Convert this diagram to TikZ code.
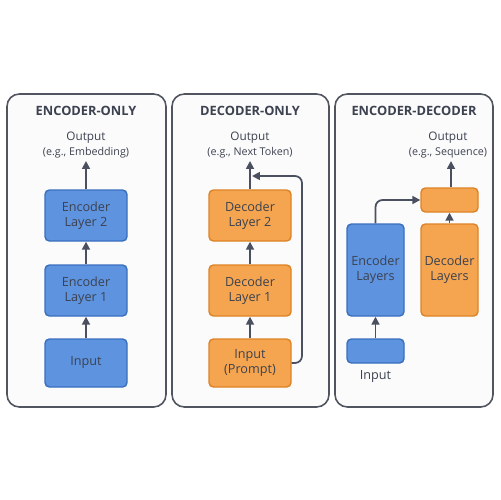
\documentclass[tikz,border=0pt]{standalone}
\usepackage{fontspec}
\setmainfont{Open Sans}
\usetikzlibrary{arrows.meta}
\definecolor{txt}{HTML}{3C4250}
\definecolor{arr}{HTML}{4A5060}
\definecolor{bluef}{HTML}{5E93DF}
\definecolor{blued}{HTML}{3A6FC0}
\definecolor{orf}{HTML}{F5A54F}
\definecolor{ord}{HTML}{DD8326}
\definecolor{panelf}{HTML}{FBFBFB}
\definecolor{paneld}{HTML}{505560}
\newcommand\subtxt{\fontsize{6.1}{7}\selectfont}
\begin{document}
\begin{tikzpicture}[x=0.02cm,y=-0.02cm,
  panel/.style={draw=paneld,fill=panelf,line width=0.9pt,rounded corners=7pt},
  bluebox/.style={draw=blued,fill=bluef,line width=0.8pt,rounded corners=2.5pt,text=txt,align=center,inner sep=0pt,font=\fontsize{7.2}{8.7}\selectfont},
  orbox/.style={draw=ord,fill=orf,line width=0.8pt,rounded corners=2.5pt,text=txt,align=center,inner sep=0pt,font=\fontsize{7.2}{8.7}\selectfont},
  ttl/.style={text=txt,font=\fontsize{7.3}{8.5}\selectfont\bfseries},
  outl/.style={text=txt,align=center,font=\fontsize{6.7}{8}\selectfont},
  conn/.style={draw=arr,line width=1pt,-{Triangle[length=4.5pt,width=4.5pt]}}
]
\useasboundingbox (0,0) rectangle (500,500);
\fill[white] (0,0) rectangle (500,500);
% panels
\draw[panel] (7,94) rectangle (166,407);
\draw[panel] (172,94) rectangle (329,407);
\draw[panel] (335,94) rectangle (493,407);
% titles
\node[ttl] (t1) at (86,111) {ENCODER-ONLY};
\node[ttl] (t2) at (250,111) {DECODER-ONLY};
\node[ttl] (t3) at (414,111) {ENCODER-DECODER};
% panel 1
\node[outl] (o1) at (86,145) {Output\\{\subtxt(e.g., Embedding)}};
\node[bluebox,minimum width=82*0.02cm,minimum height=51*0.02cm] (e2) at (86,215.5) {Encoder\\Layer 2};
\node[bluebox,minimum width=82*0.02cm,minimum height=51*0.02cm] (e1) at (86,290.5) {Encoder\\Layer 1};
\node[bluebox,minimum width=82*0.02cm,minimum height=48*0.02cm] (i1) at (86,363) {Input};
\coordinate (o1a) at (86,161);
\draw[conn] (e2.north) -- (o1a);
\draw[conn] (e1.north) -- (e2.south);
\draw[conn] (i1.north) -- (e1.south);
% panel 2
\node[outl] (o2) at (250,145) {Output\\{\subtxt(e.g., Next Token)}};
\node[orbox,minimum width=82*0.02cm,minimum height=51*0.02cm] (d2) at (250,215.5) {Decoder\\Layer 2};
\node[orbox,minimum width=82*0.02cm,minimum height=51*0.02cm] (d1) at (250,290.5) {Decoder\\Layer 1};
\node[orbox,minimum width=82*0.02cm,minimum height=48*0.02cm] (i2) at (250,363) {Input\\(Prompt)};
\coordinate (o2a) at (250,161);
\coordinate (fb) at (252,176);
\draw[conn] (d2.north) -- (o2a);
\draw[conn] (d1.north) -- (d2.south);
\draw[conn] (i2.north) -- (d1.south);
\draw[conn,rounded corners=4pt] (i2.east) -- (302,363) -- (302,176) -- (fb);
% panel 3
\node[outl] (o3) at (448,145) {Output\\{\subtxt(e.g., Sequence)}};
\node[orbox,minimum width=57*0.02cm,minimum height=24*0.02cm] (sb) at (449.5,200) {};
\node[bluebox,minimum width=57*0.02cm,minimum height=92*0.02cm] (el) at (375.5,270) {Encoder\\Layers};
\node[orbox,minimum width=57*0.02cm,minimum height=92*0.02cm] (dl) at (449.5,270) {Decoder\\Layers};
\node[bluebox,minimum width=57*0.02cm,minimum height=24*0.02cm] (i3) at (375.5,351) {};
\node[text=txt,font=\fontsize{7.2}{8.7}\selectfont] (il) at (375.5,377) {Input};
\coordinate (o3a) at (451,161);
\draw[conn] (sb.north -| o3a) -- (o3a);
\draw[conn] (dl.north) -- (sb.south);
\draw[conn] (i3.north) -- (el.south);
\draw[conn,rounded corners=4pt] (el.north) -- (375.5,200) -- (sb.west);
\end{tikzpicture}
\end{document}
